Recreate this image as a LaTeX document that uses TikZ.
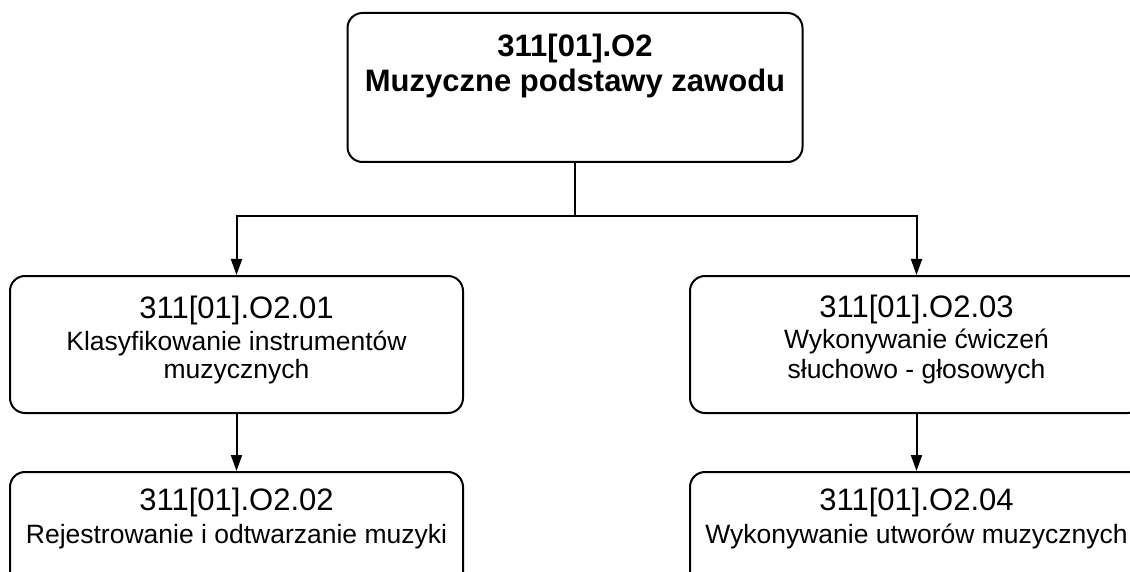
\documentclass[tikz,border=0pt]{standalone}
\usepackage{fontspec}
\setmainfont{Liberation Sans}
\usetikzlibrary{arrows.meta}
\tikzset{
  box/.style={draw=black, line width=2pt, rounded corners=15pt, inner sep=0pt, fill=white},
  big/.style={anchor=base, inner sep=0pt, font=\fontsize{31}{37}\selectfont},
  bigb/.style={anchor=base, inner sep=0pt, font=\fontsize{31}{37}\selectfont\bfseries},
  small/.style={anchor=base, inner sep=0pt, font=\fontsize{26.5}{32}\selectfont},
  conn/.style={line width=2pt},
  arr/.style={line width=2pt, -{Triangle[length=16pt,width=11pt]}}
}
\begin{document}
\begin{tikzpicture}[x=1pt,y=-1pt]
\useasboundingbox (0,0) rectangle (1130,572);
\clip (0,0) rectangle (1130,572);
\fill[white] (0,0) rectangle (1130,572);
% boxes
\node[box, minimum width=455pt, minimum height=149pt] (top) at (575,87.5) {};
\node[box, minimum width=453pt, minimum height=137pt] (c1) at (236.5,344.5) {};
\node[box, minimum width=453pt, minimum height=137pt] (c2) at (236.5,540.5) {};
\node[box, minimum width=453pt, minimum height=137pt] (c3) at (916.5,344.5) {};
\node[box, minimum width=453pt, minimum height=137pt] (c4) at (916.5,540.5) {};
% texts
\node[bigb] (t0a) at (575,57) {311[01].O2};
\node[bigb] (t0b) at (575,92) {Muzyczne podstawy zawodu};
\node[big] (t1a) at (236.5,318) {311[01].O2.01};
\node[small] (t1b) at (236.5,350) {Klasyfikowanie instrumentów};
\node[small] (t1c) at (236.5,378) {muzycznych};
\node[big] (t2a) at (236.5,510) {311[01].O2.02};
\node[small] (t2b) at (236.5,543) {Rejestrowanie i odtwarzanie muzyki};
\node[big] (t3a) at (916.5,317) {311[01].O2.03};
\node[small] (t3b) at (916.5,348) {Wykonywanie ćwiczeń};
\node[small] (t3c) at (916.5,378) {słuchowo - głosowych};
\node[big] (t4a) at (916.5,510) {311[01].O2.04};
\node[small] (t4b) at (916.5,543) {Wykonywanie utworów muzycznych};
% connectors
\coordinate (bar) at (575,216);
\draw[conn] (top.south) -- (bar);
\draw[arr] (bar) -| (c1.north);
\draw[arr] (bar) -| (c3.north);
\draw[arr] (c1.south) -- (c2.north);
\draw[arr] (c3.south) -- (c4.north);
\end{tikzpicture}
\end{document}
